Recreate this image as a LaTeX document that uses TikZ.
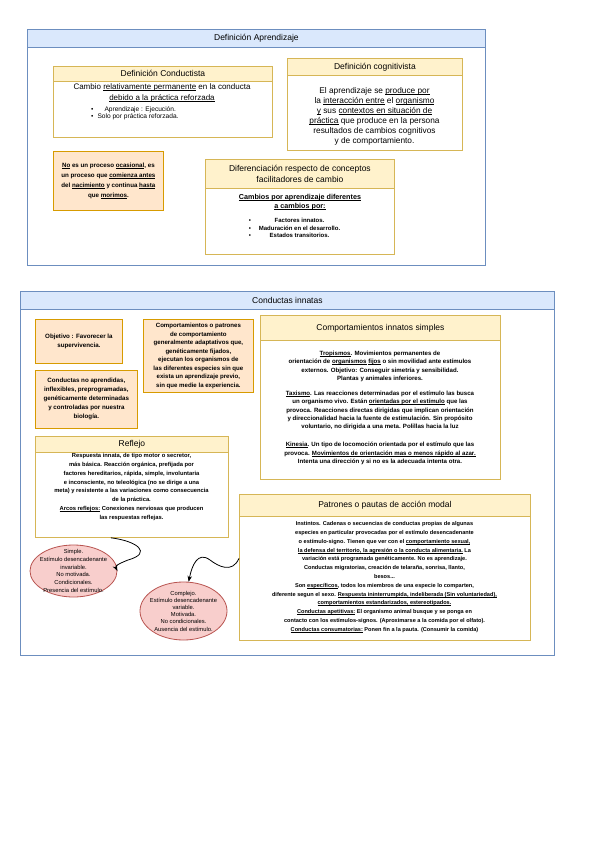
\documentclass[tikz,border=0pt]{standalone}
\usepackage{fontspec}
\setmainfont{Liberation Sans}
\usetikzlibrary{positioning,arrows.meta,shapes.geometric}
\definecolor{laneblue}{HTML}{DAE8FC}
\definecolor{laneblueline}{HTML}{6C8EBF}
\definecolor{headyellow}{HTML}{FFF2CC}
\definecolor{headyellowline}{HTML}{D6B656}
\definecolor{noteorange}{HTML}{FFE6CC}
\definecolor{noteorangeline}{HTML}{D79B00}
\definecolor{ovalred}{HTML}{F8CECC}
\definecolor{ovalredline}{HTML}{B85450}
\newcommand{\undl}[1]{\setbox0=\hbox{#1}\rlap{\rule[-1pt]{\wd0}{0.4pt}}\box0\relax}
\begin{document}
\begin{tikzpicture}[x=1pt,y=-1pt,
    bluelane/.style={draw=laneblueline,fill=white,line width=0.8pt,anchor=north west,inner sep=0pt},
    bluehead/.style={draw=laneblueline,fill=laneblue,line width=0.8pt,anchor=north west,font=\fontsize{8.5}{10}\selectfont},
    yellane/.style={draw=headyellowline,fill=white,line width=0.8pt,anchor=north west,inner sep=0pt},
    yelhead/.style={draw=headyellowline,fill=headyellow,line width=0.8pt,anchor=north west,align=center,font=\fontsize{8.5}{10.5}\selectfont},
    notebox/.style={draw=noteorangeline,fill=noteorange,line width=0.8pt,anchor=north west,inner sep=0pt},
    oval/.style={ellipse,draw=ovalredline,fill=ovalred,line width=0.8pt,inner sep=0pt},
    txt/.style={align=center,inner sep=0pt},
    arr/.style={-{Stealth[length=6pt,width=4.5pt]},line width=0.8pt}]
\useasboundingbox[fill=white] (0,0) rectangle (599,848);

% Definicion Aprendizaje
\node[bluelane,minimum width=458,minimum height=236] (apr) at (27,29) {};
\node[bluehead,minimum width=458,minimum height=18] (aprhead) at (apr.north west) {Definición Aprendizaje};

\node[yellane,minimum width=219,minimum height=71] (cond) at (53,66) {};
\node[yelhead,minimum width=219,minimum height=15] (condhead) at (cond.north west) {Definición Conductista};
\node[txt,font=\fontsize{8}{10.5}\selectfont] (condtext) at (162,93) {Cambio \undl{relativamente permanente} en la conducta\\ \undl{debido a la práctica reforzada}};
\node[txt,align=left,anchor=west,font=\fontsize{6.6}{7}\selectfont] (condlist) at (91,113.5) {\textbullet\hspace{11pt}Aprendizaje : Ejecución.\\ \textbullet\hspace{4pt}Solo por práctica reforzada.};

\node[yellane,minimum width=175,minimum height=92] (cog) at (287,58) {};
\node[yelhead,minimum width=175,minimum height=17] (coghead) at (cog.north west) {Definición cognitivista};
\node[txt,font=\fontsize{8.3}{10}\selectfont] (cogtext) at (374.5,116) {El aprendizaje se \undl{produce por}\\ la \undl{interacción entre} el \undl{organismo}\\ \undl{y} sus \undl{contextos en situación de}\\ \undl{práctica} que produce en la persona\\ resultados de cambios cognitivos\\ y de comportamiento.};

\node[notebox,minimum width=110,minimum height=59] (nota) at (53,151) {};
\node[txt,font=\bfseries\fontsize{6.2}{10}\selectfont] (notatext) at (nota.center) {\undl{No} es un proceso \undl{ocasional}, es\\ un proceso que \undl{comienza antes}\\ del \undl{nacimiento} y continua \undl{hasta}\\ que \undl{morimos}.};

\node[yellane,minimum width=189,minimum height=95] (dif) at (205,159) {};
\node[yelhead,minimum width=189,minimum height=29] (difhead) at (dif.north west) {Diferenciación respecto de conceptos\\ facilitadores de cambio};
\node[txt,font=\bfseries\fontsize{7.2}{9}\selectfont] (diftext) at (300,202.5) {\undl{Cambios por aprendizaje diferentes}\\ \undl{a cambios por:}};
\node[txt,align=left,font=\bfseries\fontsize{6}{7.5}\selectfont] (diflist) at (298.5,228) {\textbullet\makebox[97pt][c]{Factores innatos.}\\ \textbullet\makebox[97pt][c]{Maduración en el desarrollo.}\\ \textbullet\makebox[97pt][c]{Estados transitorios.}};

% Conductas innatas
\node[bluelane,minimum width=534,minimum height=364] (inn) at (20,291) {};
\node[bluehead,minimum width=534,minimum height=18] (innhead) at (inn.north west) {Conductas innatas};

\node[notebox,minimum width=87,minimum height=44] (obj) at (35,319) {};
\node[txt,font=\bfseries\fontsize{6.2}{9.3}\selectfont] (objtext) at (obj.center) {Objetivo : Favorecer la\\ supervivencia.};

\node[notebox,minimum width=102,minimum height=58] (noapr) at (35,370) {};
\node[txt,font=\bfseries\fontsize{6.2}{9}\selectfont] (noaprtext) at (noapr.center) {Conductas no aprendidas,\\ inflexibles, preprogramadas,\\ genéticamente determinadas\\ y controladas por nuestra\\ biología.};

\node[notebox,minimum width=110,minimum height=73] (comp) at (143,319) {};
\node[txt,font=\bfseries\fontsize{6.1}{8.5}\selectfont] (comptext) at (comp.center) {Comportamientos o patrones\\ de comportamiento\\ generalmente adaptativos que,\\ genéticamente fijados,\\ ejecutan los organismos de\\ las diferentes especies sin que\\ exista un aprendizaje previo,\\ sin que medie la experiencia.};

\node[yellane,minimum width=240,minimum height=164] (simp) at (260,315) {};
\node[yelhead,minimum width=240,minimum height=25] (simphead) at (simp.north west) {Comportamientos innatos simples};
\node[txt,font=\bfseries\fontsize{6.1}{8.6}\selectfont] (tropismo) at (380,366.5) {\undl{Tropismos}. Movimientos permanentes de\\ orientación de \undl{organismos} \undl{fijos} o sin movilidad ante estímulos\\ externos. Objetivo: Conseguir simetría y sensibilidad.\\ Plantas y animales inferiores.};
\node[txt,font=\bfseries\fontsize{6.1}{8.3}\selectfont] (taxismo) at (380,410.5) {\undl{Taxismo}. Las reacciones determinadas por el estímulo las busca\\ un organismo vivo. Están \undl{orientadas por el estímulo} que las\\ provoca. Reacciones directas dirigidas que implican orientación\\ y direccionalidad hacia la fuente de estimulación. Sin propósito\\ voluntario, no dirigida a una meta. Polillas hacia la luz};
\node[txt,font=\bfseries\fontsize{6.1}{8.5}\selectfont] (kinesia) at (380,453.5) {\undl{Kinesia}. Un tipo de locomoción orientada por el estímulo que las\\ provoca. \undl{Movimientos de orientación mas o menos rápido al azar.}\\ Intenta una dirección y si no es la adecuada intenta otra.};

\node[yellane,minimum width=193,minimum height=101] (refl) at (35,436) {};
\node[yelhead,minimum width=193,minimum height=16] (reflhead) at (refl.north west) {Reflejo};
\node[txt,font=\bfseries\fontsize{5.8}{8.8}\selectfont] (refltext) at (131.5,487) {Respuesta innata, de tipo motor o secretor,\\ más básica. Reacción orgánica, prefijada por\\ factores hereditarios, rápida, simple, involuntaria\\ e inconsciente, no teleológica (no se dirige a una\\ meta) y resistente a las variaciones como consecuencia\\ de la práctica.\\ \undl{Arcos reflejos:} Conexiones nerviosas que producen\\ las respuestas reflejas.};

\node[yellane,minimum width=291,minimum height=146] (patr) at (239,494) {};
\node[yelhead,minimum width=291,minimum height=22] (patrhead) at (patr.north west) {Patrones o pautas de acción modal};
\node[txt,font=\bfseries\fontsize{5.6}{8.8}\selectfont] (patrtext) at (384.5,577) {Instintos. Cadenas o secuencias de conductas propias de algunas\\ especies en particular provocadas por el estímulo desencadenante\\ o estímulo-signo. Tienen que ver con el \undl{comportamiento sexual,}\\ \undl{la defensa del territorio, la agresión o la conducta alimentaria.} La\\ variación está programada genéticamente. No es aprendizaje.\\ Conductas migratorias, creación de telaraña, sonrisa, llanto,\\ besos...\\ Son \undl{específicos}, todos los miembros de una especie lo comparten,\\ diferente segun el sexo. \undl{Respuesta ininterrumpida, indeliberada (Sin voluntariedad),}\\ \undl{comportamientos estandarizados, estereotipados.}\\ \undl{Conductas apetitivas:} El organismo animal busque y se ponga en\\ contacto con los estímulos-signos. (Aproximarse a la comida por el olfato).\\ \undl{Conductas consumatorias:} Ponen fin a la pauta. (Consumir la comida)};

\node[oval,minimum width=87,minimum height=52] (simple) at (73.5,571) {};
\node[txt,font=\fontsize{5.8}{7.8}\selectfont] (simpletext) at (simple.center) {Simple.\\ Estímulo desencadenante\\ invariable.\\ No motivada.\\ Condicionales.\\ Presencia del estímulo.};
\node[oval,minimum width=87,minimum height=58] (complejo) at (183.5,611) {};
\node[txt,font=\fontsize{5.8}{7.2}\selectfont] (complejotext) at (complejo.center) {Complejo.\\ Estímulo desencadenante\\ variable.\\ Motivada.\\ No condicionales.\\ Ausencia del estímulo.};

\coordinate (reflout) at ([xshift=-21pt]refl.south);
\coordinate (patrout) at ([yshift=9pt]patr.west);
\draw[arr] (reflout) .. controls (137,541) and (153,553) .. (128,560) .. controls (118,564) and (115,566) .. (simple.east);
\draw[arr] (patrout) .. controls (232,574) and (218,566) .. (210,560) .. controls (198,551) and (192,565) .. (complejo.80);
\end{tikzpicture}
\end{document}
